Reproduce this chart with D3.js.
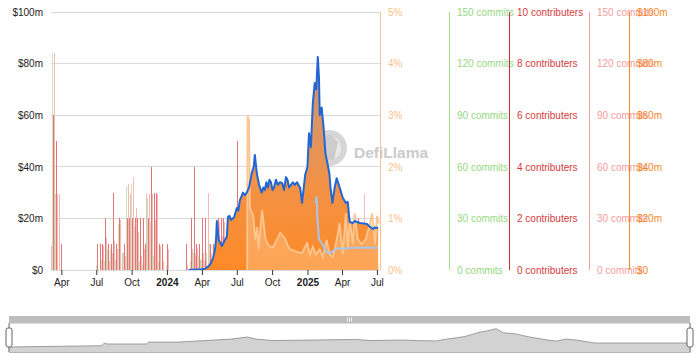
<!DOCTYPE html>
<html>
  <head>
    <meta charset="utf-8">
    <title>Protocol overview</title>
    <script src="https://cdn.jsdelivr.net/npm/d3@7"></script>
    <style>
      body { margin: 0; background: #fff; }
      #chart { display: block; font-family: "Liberation Sans", Arial, sans-serif; font-size: 13px; }
      .axis .domain { display: none; }
      .axis text { fill: #222; }
      .bar { shape-rendering: crispEdges; }
    </style>
  </head>

  <body>
    <svg id="chart" width="697" height="354">
      <defs>
        <clipPath id="plotClip"><rect x="51" y="0" width="329" height="270"></rect></clipPath>
        <linearGradient id="orangeFill" gradientUnits="userSpaceOnUse" x1="0" y1="57" x2="0" y2="270">
          <stop offset="0" stop-color="#eca06a"></stop>
          <stop offset="1" stop-color="#fd8a28"></stop>
        </linearGradient>
        <linearGradient id="blueFill" x1="0" y1="0" x2="0" y2="1">
          <stop offset="0" stop-color="#2563d0" stop-opacity="0.2"></stop>
          <stop offset="0.6" stop-color="#2563d0" stop-opacity="0.02"></stop>
          <stop offset="1" stop-color="#2563d0" stop-opacity="0"></stop>
        </linearGradient>
      </defs>
      <g id="watermark"></g>
      <g id="gridGroup"></g>
      <g id="chartGroup" clip-path="url(#plotClip)"></g>
      <g id="axisGroup">
        <g id="xAxisGroup" class="axis"></g>
        <g id="yAxisGroup" class="axis"></g>
        <g id="rightAxes"></g>
      </g>
      <g id="slider"></g>
    </svg>

    <script>
      // axis ticks
      const tickDates = ["2023-04-01", "2023-07-01", "2023-10-01", "2024-01-01", "2024-04-01",
        "2024-07-01", "2024-10-01", "2025-01-01", "2025-04-01", "2025-07-01"];
      const tickLabels = ["Apr", "Jul", "Oct", "2024", "Apr", "Jul", "Oct", "2025", "Apr", "Jul"];
      const usdTicks = [0, 20, 40, 60, 80, 100];
      const pctTicks = [0, 1, 2, 3, 4, 5];
      const commitTicks = [0, 30, 60, 90, 120, 150];
      const contributorTicks = [0, 2, 4, 6, 8, 10];

      // tvl ($m) - blue line, orange area
      const tvlDates = ["2024-02-26", "2024-04-01", "2024-04-09", "2024-04-16", "2024-04-22", "2024-04-30",
        "2024-05-05", "2024-05-08", "2024-05-10", "2024-05-15", "2024-05-23", "2024-05-31", "2024-06-05",
        "2024-06-08", "2024-06-12", "2024-06-16", "2024-06-24", "2024-07-01", "2024-07-05", "2024-07-09",
        "2024-07-17", "2024-07-22", "2024-07-27", "2024-08-02", "2024-08-09", "2024-08-14", "2024-08-17",
        "2024-08-22", "2024-08-28", "2024-09-04", "2024-09-08", "2024-09-12", "2024-09-16", "2024-09-20",
        "2024-09-24", "2024-09-28", "2024-10-02", "2024-10-06", "2024-10-11", "2024-10-16", "2024-10-21",
        "2024-10-27", "2024-11-01", "2024-11-06", "2024-11-10", "2024-11-14", "2024-11-19", "2024-11-24",
        "2024-11-29", "2024-12-05", "2024-12-13", "2024-12-18", "2024-12-26", "2025-01-01", "2025-01-05",
        "2025-01-10", "2025-01-15", "2025-01-20", "2025-01-24", "2025-01-28", "2025-01-31", "2025-02-02",
        "2025-02-07", "2025-02-12", "2025-02-17", "2025-02-22", "2025-02-27", "2025-03-02", "2025-03-07",
        "2025-03-13", "2025-03-18", "2025-03-26", "2025-04-03", "2025-04-11", "2025-04-16", "2025-04-21",
        "2025-04-29", "2025-05-05", "2025-05-10", "2025-05-18", "2025-05-28", "2025-06-05", "2025-06-13",
        "2025-06-21", "2025-06-25", "2025-06-29", "2025-07-04"];
      const tvlValues = [0, 0.3, 0.5, 1.2, 2, 4.5,
        7.7, 12, 19, 11.6, 9.3, 11.6, 13,
        20.5, 21, 19.4, 20.5, 24, 23, 27,
        30, 29, 30, 32, 37.6, 40, 44.6,
        37.6, 33, 30, 32, 31, 34, 32,
        35, 34, 31, 32, 35, 33, 34,
        33.7, 31, 36, 35, 32, 33, 34,
        33, 34, 31.8, 26, 36.8, 40, 53,
        47.7, 64.7, 72.5, 70, 82.6, 74.8, 60,
        63, 55.4, 45, 41.4, 37.6, 32, 26,
        32, 35.6, 32, 28, 26, 26.4, 18.6,
        18.2, 19, 18.6, 18.2, 18, 17.8, 16.7,
        15.9, 16.5, 16.3, 16.5];

      // share (%) - light orange
      const pctDates = ["2024-07-28", "2024-07-29", "2024-08-02", "2024-08-04", "2024-08-13", "2024-08-18",
        "2024-08-23", "2024-08-27", "2024-08-31", "2024-09-05", "2024-09-13", "2024-09-18", "2024-09-26",
        "2024-10-04", "2024-10-14", "2024-10-22", "2024-10-30", "2024-11-04", "2024-11-12", "2024-11-17",
        "2024-11-25", "2024-12-05", "2024-12-13", "2024-12-18", "2024-12-26", "2024-12-31", "2025-01-08",
        "2025-01-15", "2025-01-23", "2025-02-02", "2025-02-10", "2025-02-20", "2025-02-28", "2025-03-08",
        "2025-03-16", "2025-03-26", "2025-04-03", "2025-04-11", "2025-04-16", "2025-04-21", "2025-04-29",
        "2025-05-04", "2025-05-12", "2025-05-22", "2025-06-02", "2025-06-13", "2025-06-18", "2025-06-26",
        "2025-07-01", "2025-07-06"];
      const pctValues = [0, 3.0, 2.9, 1.2, 1.05, 0.58,
        0.83, 0.4, 0.8, 1.16, 0.64, 0.52, 0.45,
        0.45, 0.6, 0.72, 0.65, 0.6, 0.45, 0.4,
        0.38, 0.35, 0.33, 0.33, 0.45, 0.52, 0.3,
        0.45, 0.3, 0.4, 0.25, 0.58, 0.3, 0.25,
        0.5, 0.91, 0.3, 1.1, 0.4, 1.0, 0.5,
        1.1, 0.6, 0.5, 0.6, 0.9, 1.1, 0.5,
        1.05, 0.9];

      // token price line ($m scale) - pale blue
      const priceDates = ["2025-01-22", "2025-01-25", "2025-01-27", "2025-01-31", "2025-02-07", "2025-02-19",
        "2025-03-01", "2025-03-12", "2025-03-22", "2025-04-03", "2025-05-01", "2025-06-01", "2025-07-04"];
      const priceValues = [26, 28.5, 20, 12, 10.5, 7, 6.5, 7.7, 8.5, 8.2, 8.6, 8.7, 8.6];

      // weekly dev activity
      const barDates = ["2023-03-03", "2023-03-10", "2023-03-17", "2023-03-24", "2023-04-01",
        "2023-07-03", "2023-07-10", "2023-07-17", "2023-07-24", "2023-07-31", "2023-08-07", "2023-08-14",
        "2023-08-21", "2023-08-28", "2023-09-04", "2023-09-11", "2023-09-18", "2023-09-25", "2023-10-02",
        "2023-10-09", "2023-10-16", "2023-10-23", "2023-10-30", "2023-11-06", "2023-11-13", "2023-11-20",
        "2023-11-27", "2023-12-04", "2023-12-11", "2023-12-18", "2024-01-01",
        "2024-02-19", "2024-03-04", "2024-03-11", "2024-03-18", "2024-03-25", "2024-04-01", "2024-04-08",
        "2024-04-15", "2024-04-22", "2024-04-29", "2024-05-06", "2024-05-13", "2024-05-20", "2024-05-27",
        "2024-07-01", "2025-05-12", "2025-05-26"];
      const contributors = [1, 6, 5, 0, 1,
        1, 1, 1, 2, 1, 1, 3,
        1, 2, 0, 1, 2, 2, 2,
        2, 2, 2, 2, 1, 2, 4,
        3, 3, 1, 1, 1,
        1, 2, 4, 1, 1, 2, 2,
        0, 1, 1, 1, 2, 2, 2,
        5, 2, 1];
      const commits = [14, 126, 44, 44, 0,
        0, 0, 14, 19, 5, 10, 17,
        12, 29, 10, 8, 50, 44, 54,
        36, 22, 8, 12, 45, 44, 44,
        29, 44, 14, 5, 12,
        3, 12, 8, 13, 6, 10, 6,
        45, 10, 8, 8, 28, 20, 28,
        0, 0, 44];
      const devCommits = [5, 126, 44, 13, 0,
        3, 0, 6, 5, 12, 12, 8,
        6, 27, 5, 10, 49, 20, 50,
        25, 10, 5, 3, 10, 42, 28,
        8, 10, 5, 0, 3,
        0, 5, 10, 10, 8, 7, 5,
        10, 15, 5, 3, 0, 0, 0,
        0, 0, 0];

      // overview series shown in the zoom slider
      const overviewDates = ["2023-03-04", "2023-06-30", "2023-07-03", "2023-07-06", "2023-08-25", "2023-08-28",
        "2023-10-04", "2023-11-06", "2023-12-10", "2023-12-30", "2024-01-10", "2024-01-31", "2024-03-21",
        "2024-05-15", "2024-06-02", "2024-07-11", "2024-07-31", "2024-08-23", "2024-09-06", "2024-09-29",
        "2024-10-18", "2024-10-26", "2024-11-07", "2024-11-16", "2024-11-30", "2024-12-19", "2025-01-15",
        "2025-01-22", "2025-02-03", "2025-02-16", "2025-03-11", "2025-04-20", "2025-07-09"];
      const overviewValues = [16.7, 21, 30, 26.7, 26.7, 33,
        33, 38, 43, 50, 43, 38, 40,
        41.7, 38, 40, 38, 36.7, 43, 51.7,
        66.7, 70, 77.7, 64, 61, 50, 38,
        36.7, 43, 40, 30, 30, 30];

      // page elements
      const parse = d3.timeParse("%Y-%m-%d");
      const chart = d3.select("#chart");
      const chartGroup = d3.select("#chartGroup");
      const gridGroup = d3.select("#gridGroup");
      const xAxisGroup = d3.select("#xAxisGroup");
      const yAxisGroup = d3.select("#yAxisGroup");
      const rightAxes = d3.select("#rightAxes");
      const slider = d3.select("#slider");

      const margin = { top: 12, right: 380, bottom: 270, left: 51 };

      const tvl = tvlDates.map((d, i) => ({ date: parse(d), value: tvlValues[i] }));
      const pct = pctDates.map((d, i) => ({ date: parse(d), value: pctValues[i] }));
      const price = priceDates.map((d, i) => ({ date: parse(d), value: priceValues[i] }));
      const overview = overviewDates.map((d, i) => ({ date: parse(d), value: overviewValues[i] }));
      const bars = barDates.map((d, i) => ({
        date: parse(d),
        contributors: contributors[i],
        commits: commits[i],
        devCommits: devCommits[i]
      }));

      // scales
      const domain = [parse("2023-03-05"), parse("2025-07-09")];
      const x = d3.scaleTime().domain(domain).range([margin.left, margin.right]);
      const yUsd = d3.scaleLinear().domain([0, 100]).range([margin.bottom, margin.top]);
      const yPct = d3.scaleLinear().domain([0, 5]).range([margin.bottom, margin.top]);
      const yCommits = d3.scaleLinear().domain([0, 150]).range([margin.bottom, margin.top]);
      const yContrib = d3.scaleLinear().domain([0, 10]).range([margin.bottom, margin.top]);

      // watermark
      const wm = d3.select("#watermark").attr("opacity", 0.85);
      wm.append("circle").attr("cx", 329).attr("cy", 148).attr("r", 18).attr("fill", "#cfcfcf");
      wm.append("circle").attr("cx", 329).attr("cy", 148).attr("r", 12).attr("fill", "#e4e4e4");
      wm.append("path").attr("d", "M322,138 L330,134 L338,142 L334,160 L326,160 L324,150 Z").attr("fill", "#c4c4c4");
      wm.append("text").attr("x", 354).attr("y", 158)
        .attr("font-size", "15.5px").attr("font-weight", "bold").attr("fill", "#c2c2c2")
        .text("DefiLlama");

      // grid
      gridGroup.selectAll("line").data(usdTicks).join("line")
        .attr("x1", margin.left).attr("x2", margin.right)
        .attr("y1", d => yUsd(d)).attr("y2", d => yUsd(d))
        .attr("stroke", "#d9d9d9").attr("stroke-width", 1)
        .attr("shape-rendering", "crispEdges");

      // bars: green commits, contributors, pink commits
      const barSeries = [
        { key: "devCommits", scale: yCommits, offset: -1, color: "#c6e6bb" },
        { key: "contributors", scale: yContrib, offset: 0, color: "#e57474" },
        { key: "commits", scale: yCommits, offset: 1, color: "#f6b9b9" }
      ];
      barSeries.forEach(function(s) {
        chartGroup.append("g").selectAll("rect")
          .data(bars.filter(d => d[s.key] > 0))
          .join("rect")
            .attr("class", "bar")
            .attr("x", d => Math.round(x(d.date)) + s.offset)
            .attr("y", d => s.scale(d[s.key]))
            .attr("width", 1)
            .attr("height", d => s.scale(0) - s.scale(d[s.key]))
            .attr("fill", s.color);
      });

      // areas and lines
      const usdArea = d3.area()
        .x(d => x(d.date))
        .y0(yUsd(0))
        .y1(d => yUsd(d.value));
      const usdLine = d3.line()
        .x(d => x(d.date))
        .y(d => yUsd(d.value));
      const pctArea = d3.area()
        .x(d => x(d.date))
        .y0(yPct(0))
        .y1(d => yPct(d.value));
      const pctLine = d3.line()
        .x(d => x(d.date))
        .y(d => yPct(d.value));

      chartGroup.append("path").datum(tvl).attr("d", usdArea).attr("fill", "url(#orangeFill)");
      chartGroup.append("path").datum(tvl).attr("d", usdArea).attr("fill", "url(#blueFill)");
      chartGroup.append("path").datum(pct).attr("d", pctArea).attr("fill", "rgba(255,214,170,0.35)");
      chartGroup.append("path").datum(pct).attr("d", pctLine)
        .attr("fill", "none").attr("stroke", "#fdc58f").attr("stroke-width", 1.8);
      chartGroup.append("path").datum(price).attr("d", usdLine)
        .attr("fill", "none").attr("stroke", "#a9c5ea").attr("stroke-width", 2);
      chartGroup.append("path").datum(tvl).attr("d", usdLine)
        .attr("fill", "none").attr("stroke", "#2266d3").attr("stroke-width", 2)
        .attr("stroke-linejoin", "round");

      // x axis
      const xAxis = d3.axisBottom(x)
        .tickValues(tickDates.map(parse))
        .tickFormat((d, i) => tickLabels[i])
        .tickSizeInner(5)
        .tickSizeOuter(0)
        .tickPadding(4);
      xAxisGroup.attr("transform", "translate(0, " + margin.bottom + ")").call(xAxis);
      xAxisGroup.selectAll(".tick line").attr("stroke", "#333");
      xAxisGroup.selectAll(".tick text")
        .attr("font-weight", (d, i) => /^\d{4}$/.test(tickLabels[i]) ? "bold" : "normal");

      // left axis
      const yAxis = d3.axisLeft(yUsd)
        .tickValues(usdTicks)
        .tickFormat(d => d === 0 ? "$0" : "$" + d + "m")
        .tickSize(0)
        .tickPadding(8);
      yAxisGroup.attr("transform", "translate(" + margin.left + ", 0)").call(yAxis);

      // right axes
      const rightDefs = [
        { x: 380, scale: yPct, ticks: pctTicks, format: d => d + "%", color: "#fdbf88", line: "#fdc08c" },
        { x: 449, scale: yCommits, ticks: commitTicks, format: d => d + " commits", color: "#96d884", line: "#a3dc93" },
        { x: 509, scale: yContrib, ticks: contributorTicks, format: d => d + " contributers", color: "#d43c3c", line: "#c9302f" },
        { x: 589, scale: yCommits, ticks: commitTicks, format: d => d + " commits", color: "#f69c9c", line: "#f4a0a0" },
        { x: 629, scale: yUsd, ticks: usdTicks, format: d => d === 0 ? "$0" : "$" + d + "m", color: "#f5861f", line: "#f08a2c" }
      ];
      rightDefs.forEach(function(a) {
        const g = rightAxes.append("g")
          .attr("class", "axis")
          .attr("transform", "translate(" + a.x + ", 0)")
          .call(d3.axisRight(a.scale).tickValues(a.ticks).tickFormat(a.format).tickSize(0).tickPadding(8));
        g.selectAll("text").style("fill", a.color);
        g.append("line")
          .attr("x1", 0).attr("x2", 0)
          .attr("y1", margin.top).attr("y2", margin.bottom)
          .attr("stroke", a.line)
          .attr("shape-rendering", "crispEdges");
      });

      // zoom slider
      const sx = d3.scaleTime().domain(domain).range([9, 690]);
      const sy = d3.scaleLinear().domain([0, 100]).range([352, 322]);
      slider.append("rect")
        .attr("x", 9).attr("y", 323).attr("width", 681).attr("height", 29)
        .attr("fill", "none").attr("stroke", "#dcdcdc").attr("shape-rendering", "crispEdges");
      slider.append("path").datum(overview)
        .attr("d", d3.area().x(d => sx(d.date)).y0(352).y1(d => sy(d.value)))
        .attr("fill", "#d2d2d2");
      slider.append("path").datum(overview)
        .attr("d", d3.line().x(d => sx(d.date)).y(d => sy(d.value)))
        .attr("fill", "none").attr("stroke", "#8a8a8a").attr("stroke-width", 0.8);
      slider.append("line")
        .attr("x1", 9).attr("x2", 690).attr("y1", 352.5).attr("y2", 352.5)
        .attr("stroke", "#b5b5b5");
      slider.append("rect")
        .attr("x", 9).attr("y", 316).attr("width", 681).attr("height", 7)
        .attr("fill", "#bdbdbd");
      slider.selectAll(".grip").data([-2, 0, 2]).join("line")
        .attr("x1", d => 349.5 + d).attr("x2", d => 349.5 + d)
        .attr("y1", 317.5).attr("y2", 321.5)
        .attr("stroke", "#fff").attr("stroke-width", 0.8);
      slider.selectAll(".handleLine").data([9, 690]).join("line")
        .attr("x1", d => d).attr("x2", d => d)
        .attr("y1", 323).attr("y2", 352)
        .attr("stroke", "#777");
      slider.selectAll(".handle").data([9, 690]).join("rect")
        .attr("x", d => d - 3).attr("y", 328).attr("width", 6).attr("height", 19)
        .attr("rx", 2)
        .attr("fill", "#fff").attr("stroke", "#666").attr("stroke-width", 1);
    </script>
  </body>
</html>
